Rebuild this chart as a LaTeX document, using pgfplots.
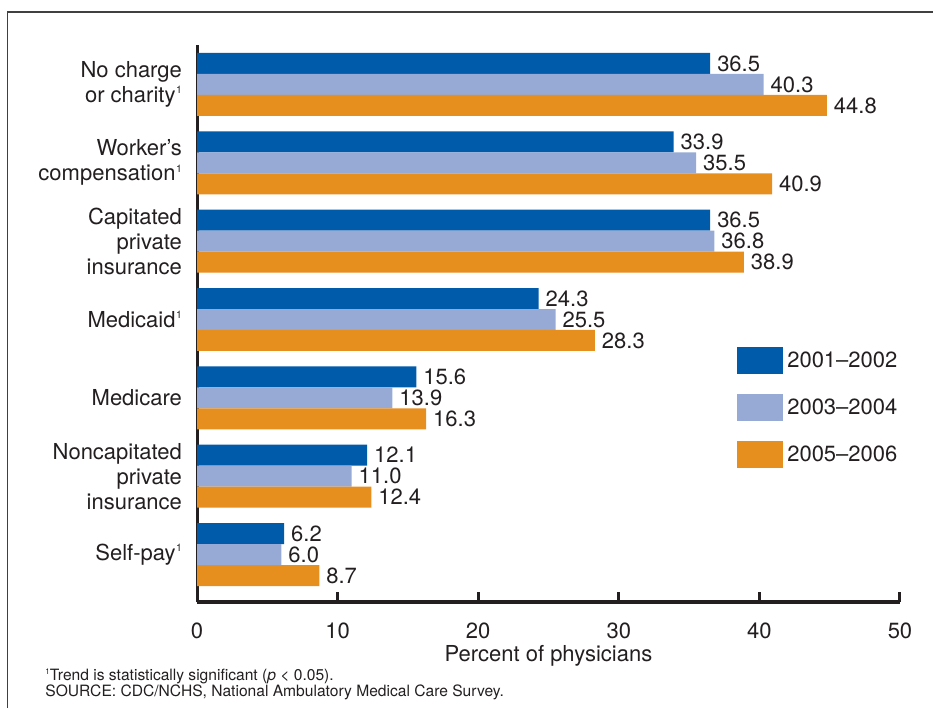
\documentclass[border=0pt]{standalone}
\usepackage{fontspec}
\setmainfont{TeX Gyre Heros}
\usepackage{pgfplots}
\pgfplotsset{compat=1.18}
\definecolor{darkblu}{HTML}{005BAA}
\definecolor{lightblu}{HTML}{97AAD5}
\definecolor{orng}{HTML}{E68E1E}
\definecolor{txt}{HTML}{231F20}
% small raised footnote mark, top aligned with the capitals
\newcommand{\fn}{\kern0.3pt\raisebox{4.3pt}{\fontsize{5.2}{5.2}\selectfont 1}}

\begin{document}
\begin{tikzpicture}[font=\fontsize{11}{12.5}\selectfont, text=txt]
\path[use as bounding box] (0,0) rectangle (466.5pt,354pt);
\draw[black!75, line width=0.6pt] (3.75pt,0) -- (3.75pt,348pt) -- (466.5pt,348pt);
\begin{axis}[
  at={(98.5pt,53pt)}, anchor=south west,
  scale only axis, width=351.5pt, height=278.5pt,
  xbar, bar width=0.268,
  xmin=0, xmax=50, ymin=-0.606, ymax=6.504,
  axis x line=bottom, axis y line=left,
  x axis line style={-, line width=1.8pt, txt},
  y axis line style={-, line width=1.5pt, txt},
  xtick={0,10,...,50}, tick align=inside, major tick length=5pt,
  x tick style={line width=1.5pt, txt},
  y tick style={draw=none},
  ytick={0,...,6},
  yticklabels={Self-pay\fn, {Noncapitated\\private\\insurance}, Medicare,
    Medicaid\fn, {Capitated\\private\\insurance}, {Worker's\\compensation\fn},
    {No charge\\or charity\fn}},
  yticklabel style={align=right, xshift=-4pt},
  xticklabel style={yshift=-7pt},
  /pgf/number format/assume math mode=true,
  xlabel={Percent of physicians},
  xlabel style={yshift=3.5pt},
  nodes near coords,
  every node near coord/.append style={/pgf/number format/.cd, fixed, fixed zerofill, precision=1},
  clip=false,
  legend style={at={(axis cs:38.4,2.649)}, anchor=north west, draw=none, fill=none,
    inner sep=0pt, row sep=10pt, cells={anchor=west},
    /tikz/every even column/.append style={column sep=3.5pt}},
  legend image code/.code={\fill[#1] (0pt,-6.75pt) rectangle (23pt,6.75pt);},
]
\addplot[fill=darkblu, draw=none, bar shift=0.268] coordinates {
  (36.5,6) (33.9,5) (36.5,4) (24.3,3) (15.6,2) (12.1,1) (6.2,0)};
\addplot[fill=lightblu, draw=none, bar shift=0] coordinates {
  (40.3,6) (35.5,5) (36.8,4) (25.5,3) (13.9,2) (11.0,1) (6.0,0)};
\addplot[fill=orng, draw=none, bar shift=-0.268] coordinates {
  (44.8,6) (40.9,5) (38.9,4) (28.3,3) (16.3,2) (12.4,1) (8.7,0)};
\legend{2001--2002, 2003--2004, 2005--2006}
\end{axis}
\node[anchor=base west, inner sep=0pt, font=\fontsize{7.8}{8.5}\selectfont] at (22.5pt,14pt)
  {\raisebox{3pt}{\fontsize{4}{4}\selectfont 1}Trend is statistically significant (\textit{p} < 0.05).};
\node[anchor=base west, inner sep=0pt, font=\fontsize{7.8}{8.5}\selectfont] at (22.5pt,5.5pt)
  {SOURCE: CDC/NCHS, National Ambulatory Medical Care Survey.};
\end{tikzpicture}
\end{document}
